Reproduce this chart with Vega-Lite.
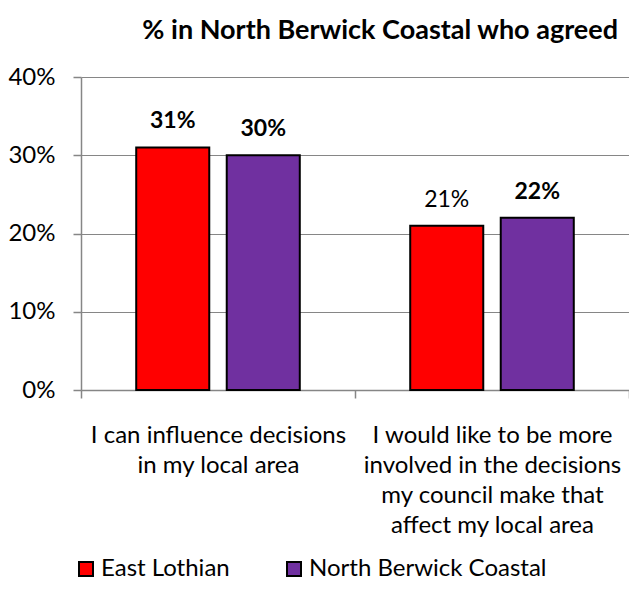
{
  "$schema": "https://vega.github.io/schema/vega-lite/v6.json",
  "width": 548,
  "height": 313,
  "autosize": {"type": "none"},
  "padding": {"left": 81, "top": 77, "right": 0, "bottom": 204},
  "background": "white",
  "config": {
    "font": "Lato",
    "view": {"stroke": null},
    "axis": {"labelFont": "Lato", "labelColor": "#000000", "labelFontSize": 24, "domainColor": "#868686", "tickColor": "#868686", "gridColor": "#868686", "domainWidth": 1.5, "tickWidth": 1.5, "gridWidth": 1},
    "legend": {"labelFont": "Lato", "labelFontSize": 24, "labelColor": "#000000", "labelLimit": 400}
  },
  "title": {
    "text": "% in North Berwick Coastal who agreed",
    "anchor": "end",
    "frame": "group",
    "font": "Lato",
    "fontSize": 27,
    "fontWeight": "bold",
    "color": "#000000",
    "offset": 20,
    "dx": -11
  },
  "data": {
    "values": [
      {"question": "I can influence decisions in my local area", "series": "East Lothian", "value": 0.31},
      {"question": "I can influence decisions in my local area", "series": "North Berwick Coastal", "value": 0.30},
      {"question": "I would like to be more involved in the decisions my council make that affect my local area", "series": "East Lothian", "value": 0.21},
      {"question": "I would like to be more involved in the decisions my council make that affect my local area", "series": "North Berwick Coastal", "value": 0.22}
    ]
  },
  "encoding": {
    "x": {
      "field": "question",
      "type": "nominal",
      "sort": null,
      "scale": {"paddingInner": 0, "paddingOuter": 0},
      "axis": {
        "title": null,
        "labelAngle": 0,
        "tickBand": "extent",
        "tickSize": 8,
        "labelPadding": 25,
        "labelLimit": 400,
        "labelLineHeight": 30,
        "labelExpr": "datum.value == 'I can influence decisions in my local area' ? ['I can influence decisions', 'in my local area'] : datum.value == 'I would like to be more involved in the decisions my council make that affect my local area' ? ['I would like to be more', 'involved in the decisions', 'my council make that', 'affect my local area'] : ''"
      }
    },
    "xOffset": {
      "field": "series",
      "type": "nominal",
      "scale": {"paddingInner": 0.193, "paddingOuter": 0.61}
    },
    "y": {
      "field": "value",
      "type": "quantitative",
      "scale": {"domain": [0, 0.4], "nice": false},
      "axis": {"title": null, "format": ".0%", "values": [0, 0.1, 0.2, 0.3, 0.4], "tickSize": 8, "labelPadding": 18, "grid": true}
    }
  },
  "layer": [
    {
      "mark": {"type": "bar", "stroke": "#000000", "strokeWidth": 2},
      "encoding": {
        "color": {
          "field": "series",
          "type": "nominal",
          "scale": {"domain": ["East Lothian", "North Berwick Coastal"], "range": ["#FF0000", "#7030A0"]},
          "legend": {
            "title": null,
            "orient": "none",
            "direction": "horizontal",
            "legendX": -7,
            "legendY": 480,
            "symbolType": "square",
            "symbolSize": 196,
            "symbolStrokeColor": "#000000",
            "symbolStrokeWidth": 2,
            "symbolOpacity": 1,
            "labelOffset": 3,
            "columnPadding": 52
          }
        }
      }
    },
    {
      "transform": [{"filter": "!(datum.series == 'East Lothian' && datum.value == 0.21)"}],
      "mark": {"type": "text", "fontSize": 23, "fontWeight": "bold", "baseline": "alphabetic", "dy": -19, "color": "#000000"},
      "encoding": {"text": {"field": "value", "type": "quantitative", "format": ".0%"}}
    },
    {
      "transform": [{"filter": "datum.series == 'East Lothian' && datum.value == 0.21"}],
      "mark": {"type": "text", "fontSize": 23, "fontWeight": "normal", "baseline": "alphabetic", "dy": -19, "color": "#000000"},
      "encoding": {"text": {"field": "value", "type": "quantitative", "format": ".0%"}}
    }
  ]
}
